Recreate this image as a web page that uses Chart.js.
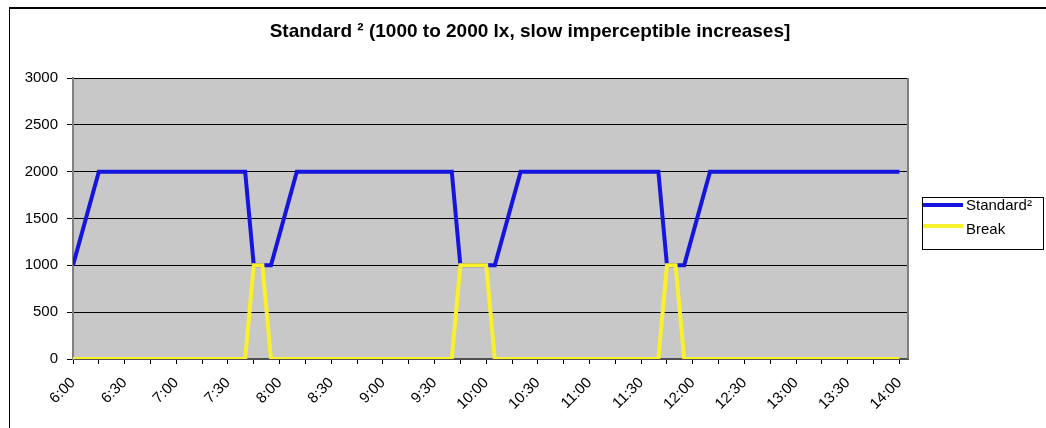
<!DOCTYPE html>
<html>
<head>
<meta charset="utf-8">
<script src="https://cdn.jsdelivr.net/npm/chart.js@4.4.1/dist/chart.umd.min.js"></script>
<style>
    body { margin: 0; background: #fff; }
    #frame {
        position: absolute; left: 9px; top: 7px;
        width: 1037px; height: 421px;
        border-top: 2px solid #000; border-left: 1px solid #000;
    }
    canvas { display: block; }
</style>
</head>
<body>
<div id="frame"><canvas id="chart-1" width="1036" height="419"></canvas></div>
<script>
// breakpoints of each series (time of day, lux)
const standardTimes = ['6:00', '6:15', '7:40', '7:45', '7:55', '8:10', '9:40', '9:45', '10:05', '10:20', '11:40', '11:45', '11:55', '12:10', '14:00'];
const standardValues = [1000, 2000, 2000, 1000, 1000, 2000, 2000, 1000, 1000, 2000, 2000, 1000, 1000, 2000, 2000];

const breakTimes = ['6:00', '7:40', '7:45', '7:50', '7:55', '9:40', '9:45', '10:00', '10:05', '11:40', '11:45', '11:50', '11:55', '14:00'];
const breakValues = [0, 0, 1000, 1000, 0, 0, 1000, 1000, 0, 0, 1000, 1000, 0, 0];

const tickLabels = ['6:00', '6:30', '7:00', '7:30', '8:00', '8:30', '9:00', '9:30', '10:00', '10:30', '11:00', '11:30', '12:00', '12:30', '13:00', '13:30', '14:00'];
const yTicks = [0, 500, 1000, 1500, 2000, 2500, 3000];

const titleText = 'Standard ² (1000 to 2000 lx, slow imperceptible increases]';
const seriesNames = ['Standard²', 'Break'];
const blue = '#1515DD';
const yellow = '#F9F12C';

function toMin(t) {
    const p = t.split(':');
    return parseInt(p[0]) * 60 + parseInt(p[1]);
}
const points = (times, vals) => times.map((t, i) => ({ x: toMin(t), y: vals[i] }));

const startMin = toMin(tickLabels[0]);
const endMin = toMin(tickLabels[tickLabels.length - 1]) + 5;

const fam = "'Liberation Sans', Arial, sans-serif";

// gray plot area, right border, title and legend box
const decor = {
    id: 'decor',
    beforeDraw(chart) {
        const { ctx, chartArea: a } = chart;
        ctx.save();
        ctx.fillStyle = '#C8C8C8';
        ctx.fillRect(a.left, a.top, a.right - a.left, a.bottom - a.top);
        ctx.restore();
    },
    afterDraw(chart) {
        const { ctx, chartArea: a } = chart;
        ctx.save();
        ctx.strokeStyle = '#808080';
        ctx.lineWidth = 2;
        ctx.beginPath();
        ctx.moveTo(a.right, a.top);
        ctx.lineTo(a.right, a.bottom);
        ctx.stroke();

        // title
        ctx.fillStyle = '#000';
        ctx.font = 'bold 19px ' + fam;
        ctx.textAlign = 'center';
        ctx.textBaseline = 'middle';
        ctx.fillText(titleText, chart.width / 2 + 2, 23);

        // legend
        const lx = a.right + 14, ly = a.top + 119;
        ctx.strokeStyle = '#000';
        ctx.lineWidth = 1;
        ctx.strokeRect(lx + 0.5, ly + 0.5, 121, 52);
        const colors = [blue, yellow];
        const rows = [ly + 8, ly + 29];
        ctx.font = '15px ' + fam;
        ctx.textAlign = 'left';
        seriesNames.forEach((name, i) => {
            ctx.strokeStyle = colors[i];
            ctx.lineWidth = 4;
            ctx.beginPath();
            ctx.moveTo(lx + 1, rows[i]);
            ctx.lineTo(lx + 41, rows[i]);
            ctx.stroke();
            ctx.fillStyle = '#000';
            ctx.fillText(name, lx + 44, rows[i] + (i === 0 ? 1 : 4));
        });
        ctx.restore();
    }
};

const data = {
    datasets: [
        {
            label: seriesNames[0],
            data: points(standardTimes, standardValues),
            borderColor: blue,
            backgroundColor: blue,
            order: 1
        },
        {
            label: seriesNames[1],
            data: points(breakTimes, breakValues),
            borderColor: yellow,
            backgroundColor: yellow,
            order: 0
        }
    ]
};

const config = {
    type: 'line',
    data: data,
    options: {
        responsive: false,
        animation: false,
        layout: { padding: { top: 69, right: 138, bottom: 0, left: 0 } },
        elements: {
            line: { borderWidth: 4, tension: 0, borderJoinStyle: 'miter' },
            point: { radius: 0 }
        },
        plugins: {
            legend: { display: false },
            title: { display: false },
            tooltip: { enabled: false }
        },
        scales: {
            x: {
                type: 'linear',
                min: startMin,
                max: endMin,
                afterFit: (s) => { s.height = 69; },
                grid: { drawOnChartArea: false, drawTicks: true, tickLength: 5, color: '#000', tickColor: '#000' },
                border: { color: '#505050', width: 2 },
                ticks: {
                    stepSize: 15,
                    includeBounds: false,
                    autoSkip: false,
                    minRotation: 45,
                    maxRotation: 45,
                    padding: 10,
                    color: '#000',
                    font: { family: fam, size: 15 },
                    callback: (v) => ((v - startMin) % 30 === 0 ? tickLabels[(v - startMin) / 30] : '')
                }
            },
            y: {
                min: yTicks[0],
                max: yTicks[yTicks.length - 1],
                afterFit: (s) => { s.width = 63; },
                grid: { color: '#000', tickColor: '#000', tickLength: 6 },
                border: { color: '#808080', width: 2 },
                ticks: {
                    stepSize: 500,
                    padding: 9,
                    color: '#000',
                    font: { family: fam, size: 15 },
                    callback: (v) => String(v)
                }
            }
        }
    },
    plugins: [decor]
};

const ctx = document.getElementById('chart-1').getContext('2d');
new Chart(ctx, config);
</script>
</body>
</html>
